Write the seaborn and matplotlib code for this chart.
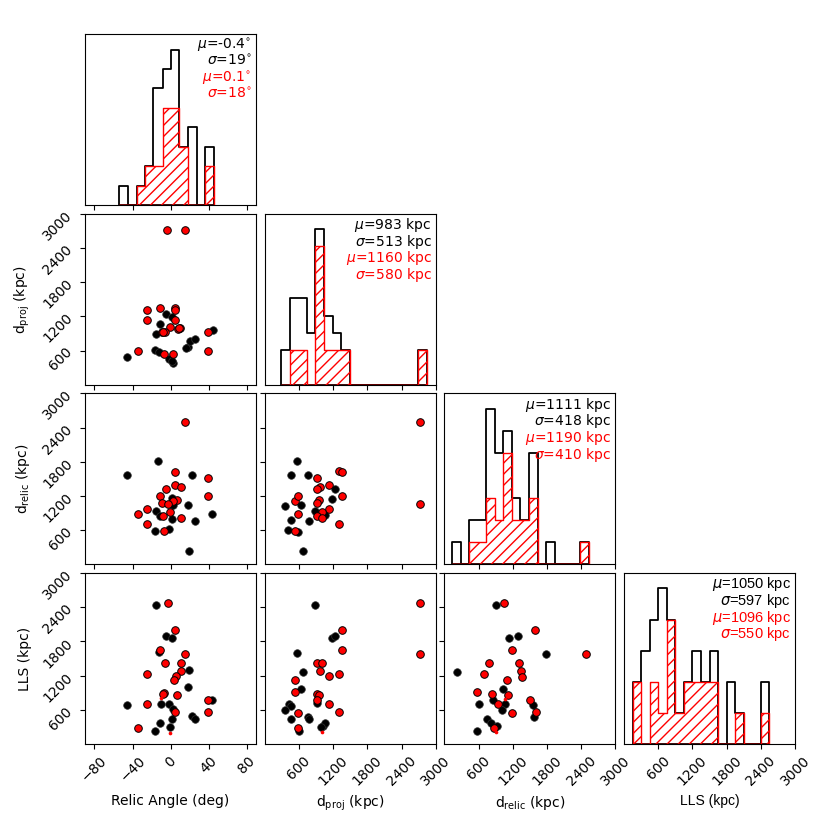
import matplotlib
matplotlib.use("Agg")
import matplotlib.pyplot as plt
import seaborn as sns

plt.rcParams["hatch.color"] = "red"
plt.rcParams["hatch.linewidth"] = 1.0

# histogram bins and counts (all objects = black, subset = red)
angle_edges = [-53.9, -44.4, -35.6, -26.8, -18.1, -8.2, 0.2, 9.3, 18.7, 27.6, 36.3, 45.8]
angle_all = [1, 0, 1, 2, 6, 7, 8, 3, 4, 0, 3]
angle_sub = [0, 0, 1, 2, 2, 5, 5, 3, 0, 0, 2]

dproj_edges = [290, 440, 590, 740, 890, 1040, 1190, 1340, 1490, 1640, 1790,
               1940, 2090, 2240, 2390, 2540, 2690, 2840]
dproj_all = [2, 5, 5, 3, 9, 4, 3, 2, 0, 0, 0, 0, 0, 0, 0, 0, 2]
dproj_sub = [0, 2, 2, 0, 8, 2, 2, 2, 0, 0, 0, 0, 0, 0, 0, 0, 2]

drelic_edges = [135, 285, 435, 585, 735, 885, 1035, 1185, 1335, 1485, 1635,
                1785, 1935, 2085, 2235, 2385, 2535]
drelic_all = [1, 0, 2, 2, 7, 5, 6, 3, 2, 5, 0, 1, 0, 0, 0, 1]
drelic_sub = [0, 0, 1, 1, 3, 2, 5, 2, 2, 3, 0, 0, 0, 0, 0, 1]

lls_edges = [150, 300, 450, 600, 750, 900, 1050, 1200, 1350, 1500, 1650,
             1800, 1950, 2100, 2250, 2400, 2550]
lls_all = [2, 3, 4, 5, 4, 1, 2, 3, 2, 3, 0, 2, 1, 0, 0, 2]
lls_sub = [2, 0, 2, 1, 4, 1, 2, 2, 2, 2, 0, 0, 1, 0, 0, 1]

# scatter panels: angle vs dproj
ad_black_x = [-45.4, -16.5, -12.3, -1.4, 2.8, 1.1, -4.9, 1.1, -10.6, -15.8, 17.9, 20.4, 25.7, 44.3, 16.2]
ad_black_y = [485, 610, 570, 445, 385, 410, 1235, 1180, 1060, 885, 670, 765, 805, 965, 640]
ad_red_x = [-3.5, 15.1, -25.3, -11.3, 4.6, 4.6, -25.3, 4.6, -0.7, -9.5, -6.0, 8.1, 9.8, 39.0,
            -34.1, -6.7, 2.8, 39.0, -7.7, 9.1]
ad_red_y = [2710, 2710, 1315, 1350, 1350, 1315, 1135, 1135, 1005, 920, 920, 980, 1000, 925,
            600, 540, 540, 600, 930, 990]

# angle vs drelic
ar_black_x = [-45.4, -13.0, 22.2, 1.1, 2.8, 18.6, -15.8, -11.3, 1.1, 25.7, 44.0, -16.5, -1.4, 19.7]
ar_black_y = [1560, 1805, 1575, 1165, 1035, 1045, 930, 850, 790, 755, 875, 585, 615, 235]
ar_red_x = [15.1, 4.6, 39.0, 4.6, 10.6, -5.3, -11.3, 39.0, 6.3, 2.8, -9.5, -3.2, -25.3, -0.7,
            -34.1, -8.4, 10.6, -25.3, -6.7]
ar_red_y = [2490, 1615, 1520, 1385, 1355, 1325, 1200, 1200, 1135, 1105, 1080, 1055, 965, 920,
            885, 855, 805, 710, 585]

# dproj vs drelic
dr_black_x = [560, 465, 765, 1230, 1175, 365, 645, 455, 875, 1055, 775, 415, 675, 590]
dr_black_y = [1805, 1560, 1575, 1315, 1150, 1025, 1045, 785, 930, 860, 755, 610, 235, 570]
dr_red_x = [2720, 1300, 1350, 920, 1125, 970, 910, 540, 590, 1350, 960, 925, 1125, 1010,
            590, 910, 1010, 1300, 540, 2720]
dr_red_y = [2490, 1630, 1615, 1520, 1385, 1355, 1325, 1105, 1200, 1200, 1135, 1080, 965, 920,
            885, 855, 805, 710, 585, 1055]

# angle vs LLS
al_black_x = [-15.8, -4.9, 1.4, -12.3, 19.7, 18.6, -45.4, -10.2, -1.8, 2.8, 1.4, 22.2, 25.7,
              44.0, -10.9, -0.7, -16.5]
al_black_y = [2430, 1890, 1860, 1615, 1295, 995, 680, 700, 700, 610, 445, 485, 445, 775, 360, 300, 220]
al_red_x = [-3.2, 4.6, -11.3, 15.1, -6.0, 10.6, 10.6, -25.3, 5.3, 3.5, -7.0, -8.4, 7.0, -25.3,
            39.0, 4.6, 39.0, -34.1]
al_red_y = [2475, 1995, 1645, 1575, 1415, 1415, 1280, 1225, 1195, 1125, 900, 880, 860, 700,
            775, 570, 555, 285]
al_dot_x = [-10.2, -0.7]
al_dot_y = [800, 195]

# dproj vs LLS
pl_black_x = [875, 1175, 1230, 560, 675, 645, 920, 435, 470, 365, 455, 760, 775, 600, 1025, 1055, 995]
pl_black_y = [2430, 1865, 1895, 1590, 1270, 965, 715, 700, 675, 600, 445, 470, 435, 220, 320, 370, 290]
pl_red_x = [2720, 1350, 1350, 2720, 910, 1010, 970, 1300, 1125, 540, 540, 920, 960, 925,
            1125, 590, 1300, 590]
pl_red_y = [2475, 1995, 1645, 1575, 1415, 1415, 1280, 1225, 1195, 1125, 915, 875, 860, 775,
            700, 540, 570, 285]
pl_dot_x = [1010]
pl_dot_y = [205]

# drelic vs LLS
rl_black_x = [910, 1140, 1290, 1780, 220, 1030, 850, 600, 1065, 1010, 1550, 1565, 745, 815, 920, 570]
rl_black_y = [2430, 1860, 1895, 1580, 1270, 965, 775, 700, 700, 600, 685, 470, 445, 370, 310, 220]
rl_red_x = [1045, 1595, 1185, 2475, 785, 1315, 1340, 1370, 690, 1095, 570, 835, 1120, 1505,
            940, 1185, 1610, 875]
rl_red_y = [2475, 1995, 1645, 1575, 1415, 1415, 1280, 1180, 1225, 1125, 915, 880, 860, 775,
            700, 540, 570, 285]
rl_dot_x = [1065, 905]
rl_dot_y = [795, 205]

angle_notes = [r"$\mu$=-0.4$^{\circ}$", r"$\sigma$=19$^{\circ}$", r"$\mu$=0.1$^{\circ}$", r"$\sigma$=18$^{\circ}$"]
dproj_notes = [r"$\mu$=983 kpc", r"$\sigma$=513 kpc", r"$\mu$=1160 kpc", r"$\sigma$=580 kpc"]
drelic_notes = [r"$\mu$=1111 kpc", r"$\sigma$=418 kpc", r"$\mu$=1190 kpc", r"$\sigma$=410 kpc"]
lls_notes = [r"$\mu$=1050 kpc", r"$\sigma$=597 kpc", r"$\mu$=1096 kpc", r"$\sigma$=550 kpc"]

labels = ["Relic Angle (deg)", r"d$_{\rm proj}$ (kpc)", r"d$_{\rm relic}$ (kpc)", "LLS (kpc)"]
angle_ticks = [-80, -40, 0, 40, 80]
kpc_ticks = [600, 1200, 1800, 2400, 3000]
limits = [(-90, 90), (0, 3000), (0, 3000), (0, 3000)]
ticks = [angle_ticks, kpc_ticks, kpc_ticks, kpc_ticks]


def draw_hist(ax, edges, counts_all, counts_sub, notes, family=None, size=10):
    centers = [(a + b) / 2 for a, b in zip(edges[:-1], edges[1:])]
    sns.histplot(x=centers, weights=counts_all, bins=edges, element="step", fill=True,
                 color="black", facecolor="none", edgecolor="black", linewidth=1.3, ax=ax)
    sns.histplot(x=centers, weights=counts_sub, bins=edges, element="step", fill=True,
                 color="red", facecolor="none", edgecolor="red", hatch="///", linewidth=1.0, ax=ax)
    ax.set_ylim(0, 1.1 * max(counts_all))
    ax.set_yticks([])
    ax.set_ylabel("")
    for i, (txt, col) in enumerate(zip(notes, ["black", "black", "red", "red"])):
        kw = {"family": family} if family else {}
        ax.text(0.975, 0.985 - i * 0.097, txt, transform=ax.transAxes, ha="right",
                va="top", color=col, fontsize=size, **kw)


def draw_scatter(ax, bx, by, rx, ry, dx=None, dy=None):
    sns.scatterplot(x=bx, y=by, color="black", s=30, edgecolor="#333333", linewidth=0.5, ax=ax)
    sns.scatterplot(x=rx, y=ry, color="red", s=30, edgecolor="black", linewidth=0.7, ax=ax)
    if dx:
        sns.scatterplot(x=dx, y=dy, color="red", s=7, linewidth=0, ax=ax)


fig, axes = plt.subplots(4, 4, figsize=(8.3, 8.3))
fig.subplots_adjust(left=0.1024, right=0.958, bottom=0.1036, top=0.959, wspace=0.05, hspace=0.05)

draw_hist(axes[0, 0], angle_edges, angle_all, angle_sub, angle_notes)
draw_hist(axes[1, 1], dproj_edges, dproj_all, dproj_sub, dproj_notes)
draw_hist(axes[2, 2], drelic_edges, drelic_all, drelic_sub, drelic_notes)
draw_hist(axes[3, 3], lls_edges, lls_all, lls_sub, lls_notes, family="Liberation Sans", size=10.5)

draw_scatter(axes[1, 0], ad_black_x, ad_black_y, ad_red_x, ad_red_y)
draw_scatter(axes[2, 0], ar_black_x, ar_black_y, ar_red_x, ar_red_y)
draw_scatter(axes[2, 1], dr_black_x, dr_black_y, dr_red_x, dr_red_y)
draw_scatter(axes[3, 0], al_black_x, al_black_y, al_red_x, al_red_y, al_dot_x, al_dot_y)
draw_scatter(axes[3, 1], pl_black_x, pl_black_y, pl_red_x, pl_red_y, pl_dot_x, pl_dot_y)
draw_scatter(axes[3, 2], rl_black_x, rl_black_y, rl_red_x, rl_red_y, rl_dot_x, rl_dot_y)

for i in range(4):
    for j in range(4):
        ax = axes[i, j]
        if j > i:
            ax.set_axis_off()
            continue
        ax.set_xlim(limits[j])
        ax.set_xticks(ticks[j])
        if i != j:
            ax.set_ylim(limits[i])
            ax.set_yticks(ticks[i])
        ax.set_xlabel("")
        if i != j:
            ax.set_ylabel("")
        if i == 3:
            ax.set_xticklabels([f"{t}".replace("-", "\u2212") for t in ticks[j]], rotation=45)
            ax.set_xlabel(labels[j], fontsize=10)
            ax.xaxis.set_label_coords(0.5, -0.29)
        else:
            ax.set_xticklabels([])
        if j == 0 and i > 0:
            ax.set_yticklabels([str(t) for t in ticks[i]], rotation=45)
            ax.set_ylabel(labels[i], fontsize=10)
            ax.yaxis.set_label_coords(-0.31, 0.5)
        elif i != j:
            ax.set_yticklabels([])

axes[3, 3].xaxis.label.set_family("Liberation Sans")

plt.savefig("out.png", dpi=100)
